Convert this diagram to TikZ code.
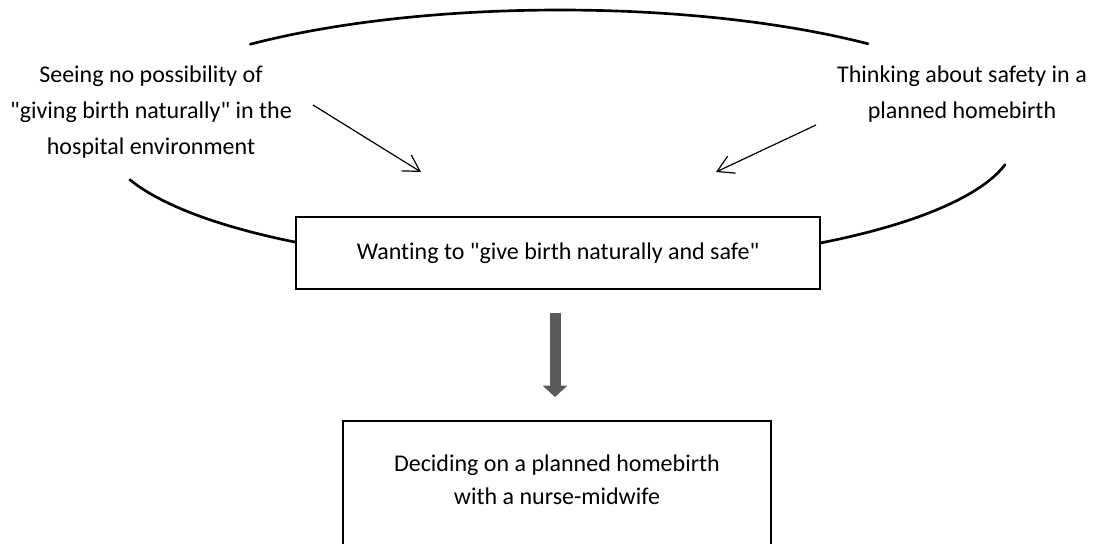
\documentclass[tikz,border=0pt]{standalone}
\usepackage{fontspec}
\setmainfont{Carlito}[Ligatures={TeXOff,CommonOff}]
\usetikzlibrary{arrows.meta,calc}
\definecolor{arrowgray}{HTML}{5A5A5A}
\begin{document}
\begin{tikzpicture}[x=0.75pt,y=-0.75pt,
  txt/.style={font=\fontsize{18}{27.3}\selectfont, text=black, align=center, inner sep=0pt},
  arcline/.style={line width=2pt, line cap=round},
  boxnode/.style={draw, line width=1.7pt, fill=white, inner sep=0pt},
  thinarrow/.style={line width=0.9pt, -{Straight Barb[length=12pt,width=14pt]}},
  blockarrow/.style={draw=arrowgray, line width=8.25pt, -{Triangle[length=8.5pt,width=18pt]}, arrowgray}]
\useasboundingbox (0,0) rectangle (1095,543);
\clip (0,0) rectangle (1095,543);
% ellipse arcs
\draw[arcline] plot[domain=47.4:132.9, samples=90, smooth] ({560+455*cos(\x)},{138-128*sin(\x)});
\draw[arcline] plot[domain=199:245, samples=60, smooth] ({560+455*cos(\x)},{138-128*sin(\x)});
\draw[arcline] plot[domain=-60:-12, samples=60, smooth] ({560+455*cos(\x)},{138-128*sin(\x)});
% middle box
\node[boxnode, minimum width=393pt, minimum height=54pt] (mid) at (558,253) {};
\node[txt] (midtxt) at (mid.center) {Wanting to "give birth naturally and safe"};
% bottom box
\node[boxnode, anchor=north, minimum width=321pt, minimum height=120pt] (bot) at (557,420) {};
\node[txt, font=\fontsize{18}{25}\selectfont] (bottxt) at (557,480) {Deciding on a planned homebirth\\with a nurse-midwife};
% side texts
\node[txt] (left) at (151,112) {Seeing no possibility of\\"giving birth naturally" in the\\hospital environment};
\node[txt] (right) at (962,94) {Thinking about safety in a\\planned homebirth};
% thin arrows
\coordinate (ls) at (313,105);
\coordinate (le) at (421,172);
\coordinate (rs) at (816,125);
\coordinate (re) at (716,172);
\draw[thinarrow] (ls) -- (le);
\draw[thinarrow] (rs) -- (re);
% block arrow
\draw[blockarrow] ($(mid.south)+(-3,23)$) -- ($(bot.north)+(-2,-23)$);
\end{tikzpicture}
\end{document}
